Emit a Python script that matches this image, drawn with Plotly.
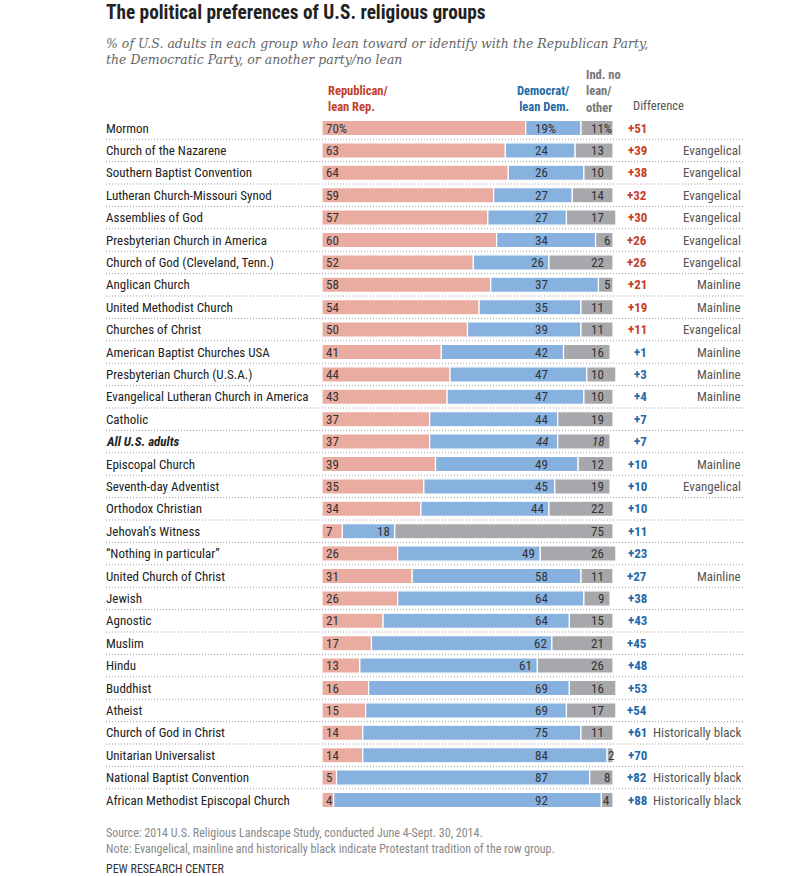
import plotly.graph_objects as go

groups = ["Mormon", "Church of the Nazarene", "Southern Baptist Convention",
          "Lutheran Church-Missouri Synod", "Assemblies of God",
          "Presbyterian Church in America", "Church of God (Cleveland, Tenn.)",
          "Anglican Church", "United Methodist Church", "Churches of Christ",
          "American Baptist Churches USA", "Presbyterian Church (U.S.A.)",
          "Evangelical Lutheran Church in America", "Catholic", "All U.S. adults",
          "Episcopal Church", "Seventh-day Adventist", "Orthodox Christian",
          "Jehovah\u2019s Witness", "\u201cNothing in particular\u201d",
          "United Church of Christ", "Jewish", "Agnostic", "Muslim", "Hindu",
          "Buddhist", "Atheist", "Church of God in Christ", "Unitarian Universalist",
          "National Baptist Convention", "African Methodist Episcopal Church"]
rep = [70, 63, 64, 59, 57, 60, 52, 58, 54, 50, 41, 44, 43, 37, 37, 39, 35, 34, 7, 26,
       31, 26, 21, 17, 13, 16, 15, 14, 14, 5, 4]
dem = [19, 24, 26, 27, 27, 34, 26, 37, 35, 39, 42, 47, 47, 44, 44, 49, 45, 44, 18, 49,
       58, 64, 64, 62, 61, 69, 69, 75, 84, 87, 92]
oth = [11, 13, 10, 14, 17, 6, 22, 5, 11, 11, 16, 10, 10, 19, 18, 12, 19, 22, 75, 26,
       11, 9, 15, 21, 26, 16, 17, 11, 2, 8, 4]
diff = ["+51", "+39", "+38", "+32", "+30", "+26", "+26", "+21", "+19", "+11", "+1",
        "+3", "+4", "+7", "+7", "+10", "+10", "+10", "+11", "+23", "+27", "+38", "+43",
        "+45", "+48", "+53", "+54", "+61", "+70", "+82", "+88"]
diff_party = ["R"] * 10 + ["D"] * 21
tradition = ["", "Evangelical", "Evangelical", "Evangelical", "Evangelical", "Evangelical",
             "Evangelical", "Mainline", "Mainline", "Evangelical", "Mainline", "Mainline",
             "Mainline", "", "", "Mainline", "Evangelical", "", "", "", "Mainline", "", "",
             "", "", "", "", "Historically black", "", "Historically black",
             "Historically black"]

W, H = 798, 876
X0, X100 = 322, 613
K = (X100 - X0) / 100.0
ROW0, STEP = 128, 22.4
n = len(groups)
yidx = list(range(n))

RED, BLUE, GRAY = "#EAABA0", "#87B2E0", "#A7A8AB"
RED_T, BLUE_T = "#C4402A", "#1F6AA8"
NARROW = "Liberation Sans Narrow, Arial Narrow, Roboto Condensed, sans-serif"


def dx(p):  # page x pixel -> data x
    return (p - X0) / K


def px(p):  # page x pixel -> paper
    return p / W


def py(p):  # page y pixel -> paper
    return 1 - p / H


fig = go.Figure()
for vals, col, base in [(rep, RED, [0] * n),
                        (dem, BLUE, rep),
                        (oth, GRAY, [r + d for r, d in zip(rep, dem)])]:
    fig.add_trace(go.Bar(
        x=vals, y=yidx, base=base, orientation="h",
        marker=dict(color=col, line=dict(color="white", width=1.2)),
        width=0.68, hoverinfo="skip", showlegend=False))

ann = []


def A(**kw):
    d = dict(showarrow=False, borderpad=0, borderwidth=0, yanchor="middle")
    d.update(kw)
    ann.append(d)


segfont = dict(family=NARROW, size=13, color="#333")
for i in range(n):
    is_all = groups[i] == "All U.S. adults"
    txt = "<b><i>All U.S. adults</i></b>" if is_all else groups[i]
    A(x=px(106), xref="paper", y=i, yref="y", text=txt, xanchor="left",
      font=dict(family=NARROW, size=13, color="#222"))
    pct = "%" if i == 0 else ""
    pctw = 8 if i == 0 else 0

    def it(s):
        return f"<i>{s}</i>" if is_all else s

    A(x=dx(326), y=i, text=f"{rep[i]}{pct}", xanchor="left", font=segfont)
    dem_end = X0 + (rep[i] + dem[i]) * K
    rx = min(548, dem_end - 5) + pctw
    A(x=dx(rx), y=i, text=it(f"{dem[i]}{pct}"), xanchor="right", font=segfont)
    tot_end = X0 + (rep[i] + dem[i] + oth[i]) * K
    if oth[i] >= 9:
        A(x=dx(604 + pctw), y=i, text=it(f"{oth[i]}{pct}"), xanchor="right", font=segfont)
    elif oth[i] >= 3:
        A(x=dx(tot_end - 3), y=i, text=it(f"{oth[i]}"), xanchor="right", font=segfont)
    else:
        A(x=dx(dem_end + 0.5), y=i, text=it(f"{oth[i]}"), xanchor="left", font=segfont)
    A(x=dx(647), y=i, text=f"<b>{diff[i]}</b>", xanchor="right",
      font=dict(family=NARROW, size=13, color=RED_T if diff_party[i] == "R" else BLUE_T))
    if tradition[i]:
        A(x=dx(741), y=i, text=tradition[i], xanchor="right",
          font=dict(family=NARROW, size=13, color="#555"))

A(x=px(106), y=py(13), xref="paper", yref="paper", xanchor="left",
  text="<b>The political preferences of U.S. religious groups</b>",
  font=dict(family=NARROW, size=19.3, color="#222"))
A(x=px(106), y=py(51), xref="paper", yref="paper", xanchor="left", align="left",
  text="<i>% of U.S. adults in each group who lean toward or identify with the Republican Party,"
       "<br>the Democratic Party, or another party/no lean</i>",
  font=dict(family="DejaVu Serif, Liberation Serif, serif", size=12.5, color="#666"))
A(x=px(328), y=py(98.5), xref="paper", yref="paper", xanchor="left", align="left",
  text="<b>Republican/<br>lean Rep.</b>",
  font=dict(family=NARROW, size=12.5, color=RED_T))
A(x=px(569), y=py(98.5), xref="paper", yref="paper", xanchor="right", align="right",
  text="<b>Democrat/<br>lean Dem.</b>",
  font=dict(family=NARROW, size=12.5, color=BLUE_T))
A(x=px(586), y=py(91), xref="paper", yref="paper", xanchor="left", align="left",
  text="<b>Ind. no<br>lean/<br>other</b>",
  font=dict(family=NARROW, size=12.5, color="#777"))
A(x=px(633), y=py(106), xref="paper", yref="paper", xanchor="left",
  text="Difference", font=dict(family=NARROW, size=12.5, color="#555"))
A(x=px(106), y=py(840.5), xref="paper", yref="paper", xanchor="left", align="left",
  text="Source: 2014 U.S. Religious Landscape Study, conducted June 4-Sept. 30, 2014."
       "<br>Note: Evangelical, mainline and historically black indicate Protestant "
       "tradition of the row group.",
  font=dict(family=NARROW, size=12, color="#888"))
A(x=px(106), y=py(869), xref="paper", yref="paper", xanchor="left",
  text="PEW RESEARCH CENTER", font=dict(family=NARROW, size=12, color="#333"))

shapes = []
for i in range(n - 1):
    shapes.append(dict(type="line", xref="paper", yref="y", x0=px(106), x1=px(745),
                       y0=i + 0.5, y1=i + 0.5, layer="below",
                       line=dict(color="#9A9A9A", width=1, dash="1px,2px")))

fig.update_layout(
    width=W, height=H, margin=dict(l=0, r=0, t=0, b=0, pad=0),
    paper_bgcolor="white", plot_bgcolor="rgba(0,0,0,0)",
    barmode="overlay", bargap=0, hovermode=False,
    xaxis=dict(domain=[0, 1], range=[dx(0), dx(W)], visible=False, fixedrange=True),
    yaxis=dict(domain=[0, 1], range=[(H - ROW0) / STEP, (0 - ROW0) / STEP],
               visible=False, fixedrange=True),
    annotations=ann, shapes=shapes,
)
fig.write_html("out.html",
               config={"displayModeBar": False, "staticPlot": True},
               post_script="document.body.style.margin='0';"
                           "document.body.style.overflow='hidden';")
